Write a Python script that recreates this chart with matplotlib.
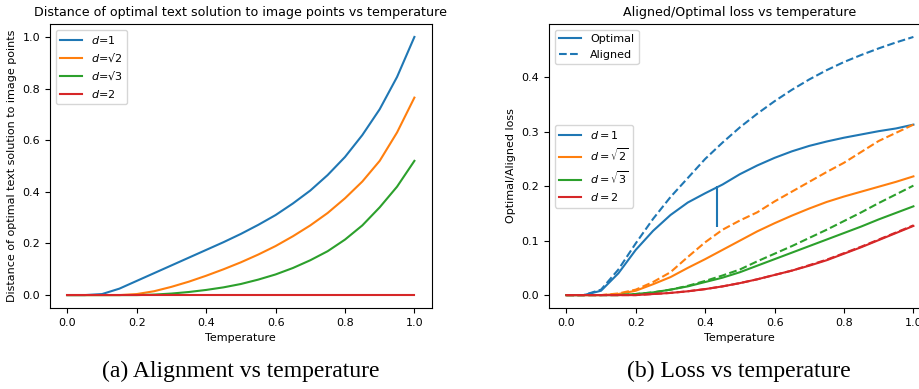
import matplotlib
matplotlib.use("Agg")
import matplotlib.pyplot as plt

# temperature grid (shared by every curve)
temps = [0.0, 0.05, 0.1, 0.15, 0.2, 0.25, 0.3, 0.35, 0.4, 0.45, 0.5,
         0.55, 0.6, 0.65, 0.7, 0.75, 0.8, 0.85, 0.9, 0.95, 1.0]

# (a) distance of optimal text solution to image points
dist_d1 = [0, 0, 0.004, 0.025, 0.055, 0.085, 0.115, 0.145, 0.175, 0.205, 0.237,
           0.272, 0.31, 0.355, 0.405, 0.465, 0.535, 0.62, 0.72, 0.845, 1.0]
dist_d2 = [0, 0, 0, 0, 0.004, 0.015, 0.032, 0.052, 0.075, 0.1, 0.127,
           0.157, 0.19, 0.228, 0.27, 0.318, 0.375, 0.44, 0.52, 0.63, 0.765]
dist_d3 = [0, 0, 0, 0, 0, 0.002, 0.006, 0.012, 0.02, 0.03, 0.043,
           0.06, 0.08, 0.105, 0.135, 0.17, 0.215, 0.27, 0.34, 0.42, 0.52]
dist_d4 = [0] * 21

# (b) optimal / aligned loss
opt_d1 = [0, 0, 0.008, 0.04, 0.083, 0.118, 0.147, 0.17, 0.187, 0.203, 0.222,
          0.238, 0.252, 0.264, 0.274, 0.282, 0.289, 0.295, 0.301, 0.306, 0.313]
ali_d1 = [0, 0, 0.01, 0.047, 0.095, 0.14, 0.18, 0.215, 0.25, 0.28, 0.308,
          0.333, 0.356, 0.377, 0.396, 0.413, 0.428, 0.441, 0.453, 0.464, 0.474]
opt_d2 = [0, 0, 0, 0.002, 0.008, 0.02, 0.033, 0.05, 0.066, 0.083, 0.1,
          0.117, 0.132, 0.146, 0.159, 0.171, 0.181, 0.19, 0.199, 0.208, 0.218]
ali_d2 = [0, 0, 0, 0.003, 0.01, 0.024, 0.042, 0.07, 0.097, 0.12, 0.137,
          0.152, 0.172, 0.19, 0.208, 0.226, 0.243, 0.263, 0.283, 0.298, 0.313]
opt_d3 = [0, 0, 0, 0, 0.002, 0.005, 0.01, 0.016, 0.024, 0.032, 0.042,
          0.054, 0.066, 0.078, 0.09, 0.102, 0.114, 0.126, 0.139, 0.151, 0.163]
ali_d3 = [0, 0, 0, 0, 0.002, 0.005, 0.01, 0.017, 0.026, 0.036, 0.047,
          0.062, 0.076, 0.09, 0.105, 0.12, 0.136, 0.152, 0.169, 0.185, 0.201]
opt_d4 = [0, 0, 0, 0, 0, 0.002, 0.004, 0.007, 0.011, 0.016, 0.022,
          0.029, 0.037, 0.045, 0.054, 0.064, 0.076, 0.088, 0.101, 0.114, 0.127]
ali_d4 = [0, 0, 0, 0, 0, 0.002, 0.004, 0.007, 0.011, 0.016, 0.022,
          0.029, 0.037, 0.045, 0.055, 0.065, 0.077, 0.089, 0.102, 0.115, 0.128]

# gap marker on the d=1 optimal curve
gap_x = 0.435
gap_top = 0.2
gap_bottom = 0.125

labels_a = ["$d$=1", "$d$=\u221a2", "$d$=\u221a3", "$d$=2"]
labels_b = ["$d = 1$", r"$d = \sqrt{2}$", r"$d = \sqrt{3}$", "$d = 2$"]
colors = ["#1f77b4", "#ff7f0e", "#2ca02c", "#d62728"]

plt.rcParams["font.size"] = 8
plt.rcParams["axes.titlesize"] = 9.1
plt.rcParams["axes.labelsize"] = 8
plt.rcParams["legend.fontsize"] = 8

fig = plt.figure(figsize=(9.2, 3.89), dpi=100)
ax1 = fig.add_axes([0.0543, 0.2082, 0.415, 0.730])
ax2 = fig.add_axes([0.5967, 0.2082, 0.415, 0.730])

for ys, lab, c in zip([dist_d1, dist_d2, dist_d3, dist_d4], labels_a, colors):
    ax1.plot(temps, ys, color=c, label=lab)
ax1.set_title("Distance of optimal text solution to image points vs temperature")
ax1.set_xlabel("Temperature")
ax1.set_ylabel("Distance of optimal text solution to image points")
ax1.legend(loc="upper left")

lines = []
for opt, ali, lab, c in zip([opt_d1, opt_d2, opt_d3, opt_d4],
                            [ali_d1, ali_d2, ali_d3, ali_d4], labels_b, colors):
    l, = ax2.plot(temps, opt, color=c, label=lab)
    ax2.plot(temps, ali, color=c, ls="--")
    lines.append(l)
ax2.vlines(gap_x, gap_bottom, gap_top, color=colors[0], lw=1.5)

h_opt, = ax2.plot([], [], color=colors[0], label="Optimal")
h_ali, = ax2.plot([], [], color=colors[0], ls="--", label="Aligned")
leg1 = ax2.legend(handles=[h_opt, h_ali], loc="upper left")
ax2.add_artist(leg1)
ax2.legend(handles=lines, loc="center left")
ax2.set_title("Aligned/Optimal loss vs temperature")
ax2.set_xlabel("Temperature")
ax2.set_ylabel("Optimal/Aligned loss")

fig.text(0.262, 0.045, "(a) Alignment vs temperature", ha="center", va="center",
         family="Liberation Serif", fontsize=17)
fig.text(0.803, 0.045, "(b) Loss vs temperature", ha="center", va="center",
         family="Liberation Serif", fontsize=17)

fig.savefig("out.png", dpi=100)
